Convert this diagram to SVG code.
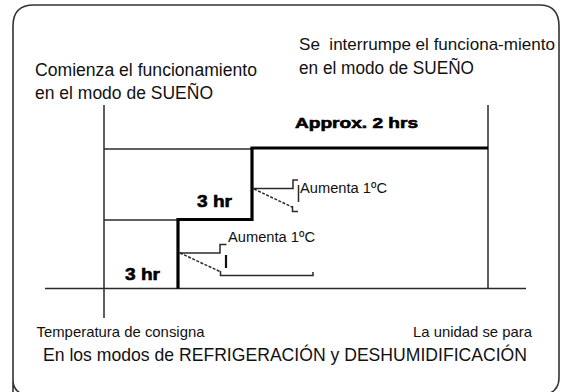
<svg xmlns="http://www.w3.org/2000/svg" width="567" height="392" viewBox="0 0 567 392">
<style>
.t{font-family:"Liberation Sans",Arial,sans-serif;fill:#111}
.b{font-family:"Liberation Sans",Arial,sans-serif;font-weight:bold;fill:#000}
.thin{fill:none;stroke:#2a2a2a;stroke-width:1.5}
.thick{fill:none;stroke:#000;stroke-width:3.2}
.dash{fill:none;stroke:#2a2a2a;stroke-width:1.5;stroke-dasharray:3 1.5}
</style>
<rect x="0" y="0" width="567" height="392" fill="#fff"/>
<g id="frame">
<path d="M13,392 L13,26 Q13,5 34,5 L541,5 Q559,6 559,26 L559,378 Q559,390 548,394 M13,380 Q13,390 22,394" fill="none" stroke="#333" stroke-width="1.6"/>
</g>
<g id="connectors">
<line class="thin" x1="104" y1="105" x2="104" y2="318"/>
<line class="thin" x1="488" y1="105" x2="488" y2="288.5"/>
<line class="thin" x1="45" y1="288.5" x2="526" y2="288.5"/>
<line class="thin" x1="104" y1="149" x2="252" y2="149"/>
<line class="thin" x1="104" y1="220" x2="178" y2="220"/>
<polyline class="thick" points="178,288.5 178,219.5 252,219.5 252,148 488,148"/>
<polyline class="thin" points="253,188.5 293,188.5 293,180 298,180"/>
<line class="thin" x1="298.5" y1="185" x2="298.5" y2="202"/>
<polyline class="dash" points="254,189 292,207"/>
<polyline class="thin" points="292.5,206 292.5,211.5 298,211.5"/>
<polyline class="thin" points="179,253 220,253 220,244.5 226.5,244.5"/>
<line x1="226" y1="255" x2="226" y2="268" stroke="#111" stroke-width="2.2"/>
<polyline class="dash" points="180,253 220,271.5"/>
<polyline class="thin" points="220.5,271 220.5,275.5 313,275.5 313,272"/>
</g>
<g id="label-start">
<text class="t" x="35" y="76" font-size="17.5" textLength="222" lengthAdjust="spacingAndGlyphs">Comienza el funcionamiento</text>
<text class="t" x="35" y="99" font-size="17.5" textLength="178" lengthAdjust="spacingAndGlyphs">en el modo de SUEÑO</text>
</g>
<g id="label-stop">
<text class="t" x="299" y="50" font-size="17" textLength="256" lengthAdjust="spacingAndGlyphs" xml:space="preserve">Se  interrumpe el funciona-miento</text>
<text class="t" x="299" y="73.5" font-size="17.5" textLength="175" lengthAdjust="spacingAndGlyphs">en el modo de SUEÑO</text>
</g>
<g id="label-approx">
<text class="b" x="295" y="128" font-size="15" textLength="123" lengthAdjust="spacingAndGlyphs" stroke="#000" stroke-width="0.6">Approx. 2 hrs</text>
</g>
<g id="label-3hr-upper">
<text class="b" x="197" y="207" font-size="17" textLength="35" lengthAdjust="spacingAndGlyphs" stroke="#000" stroke-width="0.6">3 hr</text>
</g>
<g id="label-3hr-lower">
<text class="b" x="125" y="280" font-size="17" textLength="35" lengthAdjust="spacingAndGlyphs" stroke="#000" stroke-width="0.6">3 hr</text>
</g>
<g id="label-aumenta-upper">
<text class="t" x="300" y="193" font-size="15.5" textLength="87" lengthAdjust="spacingAndGlyphs">Aumenta 1ºC</text>
</g>
<g id="label-aumenta-lower">
<text class="t" x="228" y="242" font-size="15.5" textLength="87" lengthAdjust="spacingAndGlyphs">Aumenta 1ºC</text>
</g>
<g id="label-setpoint">
<text class="t" x="36.5" y="337" font-size="15" textLength="168" lengthAdjust="spacingAndGlyphs">Temperatura de consigna</text>
</g>
<g id="label-unit-stops">
<text class="t" x="413" y="337" font-size="15" textLength="119" lengthAdjust="spacingAndGlyphs">La unidad se para</text>
</g>
<g id="label-modes">
<text class="t" x="43" y="361" font-size="18.5" textLength="484" lengthAdjust="spacingAndGlyphs">En los modos de REFRIGERACIÓN y DESHUMIDIFICACIÓN</text>
</g>
</svg>
